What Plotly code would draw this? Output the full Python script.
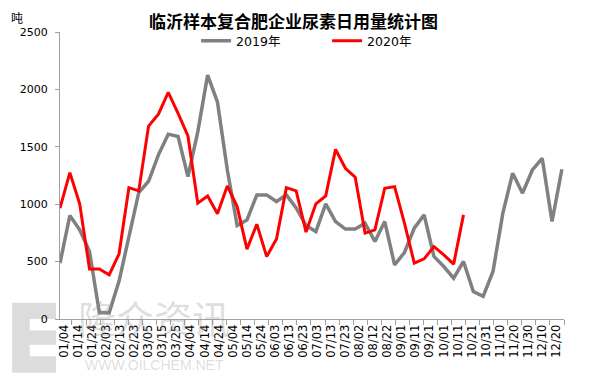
import plotly.graph_objects as go
import pandas as pd

# weekly sample dates (both years shown on a common month/day axis)
dates = pd.date_range("2019-01-01", periods=52, freq="7D")

usage_2019 = [487, 901, 777, 588, 55, 55, 330, 700, 1100, 1200, 1430, 1610, 1590,
              1240, 1630, 2124, 1890, 1300, 814, 863, 1081, 1081, 1023, 1081, 968,
              814, 762, 1003, 849, 783, 783, 835, 675, 849, 472, 579, 791, 907,
              545, 457, 356, 501, 240, 197, 414, 922, 1270, 1096, 1298, 1400, 849, 1304]

usage_2020 = [965, 1275, 1003, 435, 435, 385, 568, 1144, 1116, 1681, 1785, 1974,
              1791, 1594, 1009, 1072, 916, 1159, 979, 609, 826, 544, 696, 1144,
              1116, 757, 1003, 1072, 1478, 1313, 1235, 748, 777, 1139, 1153, 835,
              487, 524, 631, 559, 478, 907]

tick_labels = ["01/04", "01/14", "01/24", "02/03", "02/13", "02/23", "03/05", "03/15",
               "03/25", "04/04", "04/14", "04/24", "05/04", "05/14", "05/24", "06/03",
               "06/13", "06/23", "07/03", "07/13", "07/23", "08/02", "08/12", "08/22",
               "09/01", "09/11", "09/21", "10/01", "10/11", "10/21", "10/31", "11/10",
               "11/20", "11/30", "12/10", "12/20"]
tick_dates = ["2019-" + t.replace("/", "-") for t in tick_labels]

FONT = "DejaVu Sans, Noto Sans CJK SC"

fig = go.Figure()
fig.add_trace(go.Scatter(x=dates[:len(usage_2019)], y=usage_2019, mode="lines",
                         name="2019年", line=dict(color="#808080", width=3.5)))
fig.add_trace(go.Scatter(x=dates[:len(usage_2020)], y=usage_2020, mode="lines",
                         name="2020年", line=dict(color="#FF0000", width=3)))

# faint watermark (logo block + text)
wm = "rgba(150,150,150,0.33)"
fig.add_shape(type="rect", xref="paper", yref="paper", x0=-0.095, x1=-0.008,
              y0=-0.187, y1=0.057, fillcolor=wm, line_width=0, layer="below")
for ya, yb in [(-0.04, 0.0), (-0.13, -0.09)]:
    fig.add_shape(type="rect", xref="paper", yref="paper", x0=-0.06, x1=-0.006,
                  y0=ya, y1=yb, fillcolor="white", line_width=0, layer="below")
fig.add_annotation(text="隆众资讯", xref="paper", yref="paper", x=0.186, y=0.008,
                   xanchor="center", yanchor="middle", showarrow=False,
                   font=dict(size=38, color=wm, family="Noto Sans CJK SC"))
fig.add_annotation(text="WWW.OILCHEM.NET", xref="paper", yref="paper", x=0.188, y=-0.159,
                   xanchor="center", yanchor="middle", showarrow=False,
                   font=dict(size=14, color=wm, family="Liberation Sans"))
fig.add_annotation(text="吨", xref="paper", yref="paper", x=-0.099, y=1.082,
                   xanchor="left", yanchor="top", showarrow=False, borderpad=0,
                   font=dict(size=12, color="#000000", family="Noto Sans CJK SC"))

# page body adds an 8px offset; margins compensate for it
fig.update_layout(
    width=595, height=390,
    margin=dict(l=52, r=39, t=24, b=79, autoexpand=False),
    paper_bgcolor="white", plot_bgcolor="white",
    title=dict(text="<b>临沂样本复合肥企业尿素日用量统计图</b>", x=0.48, xanchor="center",
               xref="container", yref="container", y=0.965, yanchor="middle",
               automargin=False,
               font=dict(size=17, color="#000000", family="Noto Sans CJK SC")),
    legend=dict(orientation="h", x=0.27, xanchor="left", y=0.968, yanchor="middle",
                bgcolor="rgba(0,0,0,0)", font=dict(size=12.5, color="#000000",
                family=FONT), entrywidth=86, itemwidth=30),
    xaxis=dict(type="date", range=["2019-01-01", "2019-12-25 12:00"],
               tickvals=tick_dates, ticktext=tick_labels, tickangle=-90,
               ticks="", showgrid=False, zeroline=False, automargin=False,
               showline=True, linecolor="#A0A0A0", linewidth=1,
               tickfont=dict(size=11.5, color="#000000", family=FONT),
               minor=dict(ticks="outside", ticklen=5, tickcolor="#A0A0A0",
                          tick0="2019-01-09 12:00", dtick=10 * 86400000, showgrid=False)),
    yaxis=dict(range=[0, 2500], tickvals=[0, 500, 1000, 1500, 2000, 2500],
               ticks="outside", ticklen=4, tickcolor="#A0A0A0", showgrid=False,
               zeroline=False, showline=True, linecolor="#A0A0A0", linewidth=1,
               automargin=False, ticklabelstandoff=5,
               tickfont=dict(size=11, color="#000000", family=FONT)),
)

fig.write_html("out.html")
